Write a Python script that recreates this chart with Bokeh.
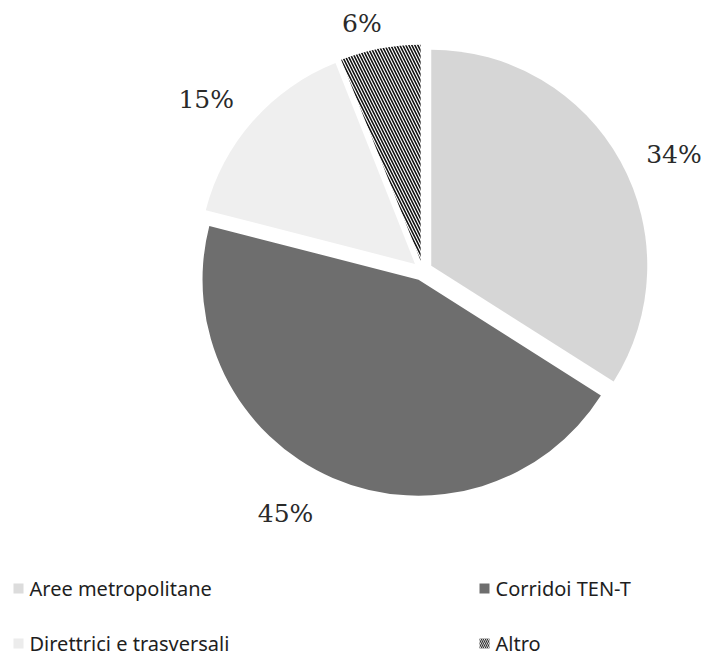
import math
from bokeh.plotting import figure
from bokeh.models import Range1d, ColumnDataSource
from bokeh.core.properties import value
from bokeh.embed import file_html
from bokeh.resources import INLINE

# ---- data ----
categories = ["Aree metropolitane", "Corridoi TEN-T", "Direttrici e trasversali", "Altro"]
shares = [34, 45, 15, 6]
pct_labels = ["34%", "45%", "15%", "6%"]

# ---- style ----
fills = ["#d6d6d6", "#6e6e6e", "#efefef", "#ffffff"]
hatches = [" ", " ", " ", "\\"]
label_dist = [277, 279, 276, 254]     # px from pie centre
label_rot = [4, 6, -3, -3]            # degrees of nudge from bisector
W, H = 705, 657
CX, CY_TOP = 422, 270                 # pie centre, px from top-left
CY = H - CY_TOP
R = 216
EXPLODE = 10

total = float(sum(shares))
starts, ends, xs, ys, lx, ly = [], [], [], [], [], []
acc = 0.0
for i, s in enumerate(shares):
    t1 = acc / total * 360.0
    t2 = (acc + s) / total * 360.0
    acc += s
    mid = math.radians((t1 + t2) / 2)
    xs.append(CX + EXPLODE * math.sin(mid))
    ys.append(CY + EXPLODE * math.cos(mid))
    starts.append(math.radians(90 - t2))
    ends.append(math.radians(90 - t1))
    la = mid + math.radians(label_rot[i])
    lx.append(CX + label_dist[i] * math.sin(la))
    ly.append(CY + label_dist[i] * math.cos(la))

src = ColumnDataSource(dict(x=xs, y=ys, start=starts, end=ends, fill=fills,
                            hatch=hatches, lx=lx, ly=ly, lab=pct_labels, cat=categories))

p = figure(width=W, height=H, output_backend="svg", toolbar_location=None,
           x_range=Range1d(0, W), y_range=Range1d(0, H), min_border=0)
p.axis.visible = False
p.grid.visible = False
p.outline_line_color = None
p.background_fill_color = "white"

p.wedge(x="x", y="y", radius=R, radius_units="screen", start_angle="start", end_angle="end",
        fill_color="fill", line_color=None, hatch_pattern="hatch", hatch_color="#111111",
        hatch_scale=6, hatch_weight=1.6, source=src)

p.text(x="lx", y="ly", text="lab", source=src, text_align="center", text_baseline="middle",
       text_font=value("DejaVu Serif"), text_font_size="25px", text_color="#2a2a2a")

# ---- legend (2 x 2) ----
leg_x = [18, 484, 18, 484]
leg_row = [588, 588, 643, 643]        # px from top
leg_y = [H - v for v in leg_row]
leg_fill = ["#dcdcdc", "#6e6e6e", "#ececec", "#ffffff"]
leg_hatch = [" ", " ", " ", "\\"]
lsrc = ColumnDataSource(dict(x=leg_x, y=leg_y, fill=leg_fill, hatch=leg_hatch,
                             tx=[v + 11 for v in leg_x], cat=categories))
p.rect(x="x", y="y", width=10, height=10, width_units="screen", height_units="screen",
       fill_color="fill", line_color=None, hatch_pattern="hatch", hatch_color="#333333",
       hatch_scale=4, hatch_weight=1.2, source=lsrc)
p.text(x="tx", y="y", text="cat", source=lsrc, text_align="left", text_baseline="middle",
       text_font=value("Noto Sans"), text_font_size="20px", text_color="#1e1e1e")

open("out.html", "w").write(file_html(p, INLINE))
